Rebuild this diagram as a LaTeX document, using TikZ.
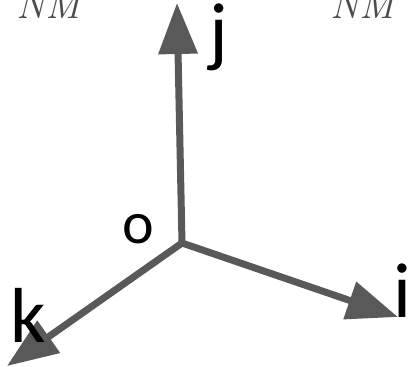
\documentclass[tikz,border=0pt]{standalone}
\usepackage{fontspec}
\newfontfamily\lblfont{Carlito}
\usetikzlibrary{arrows.meta}
\begin{document}
\begin{tikzpicture}[x=1pt,y=-1pt,
  axis/.style={draw=black!65, line width=7pt, -{Triangle[length=51pt,width=38pt]}},
  lbl/.style={inner sep=0pt, anchor=base west, font=\lblfont\fontsize{78}{90}\selectfont},
  nm/.style={inner sep=0pt, anchor=base west, text=black!70, font=\itshape\fontsize{40}{46}\selectfont}]
\useasboundingbox (0,0) rectangle (408,367);
\coordinate (O) at (182,243);
\coordinate (J) at (177,3);
\coordinate (I) at (398,317);
\coordinate (K) at (7,366);
\draw[axis] (O) -- (J);
\draw[axis] (O) -- (I);
\draw[axis] (O) -- (K);
\node[lbl] (jl) at (209,57) {j};
\node[lbl] (il) at (393,317) {i};
\node[lbl] (kl) at (10,342) {k};
\node[lbl, font=\lblfont\fontsize{60}{70}\selectfont] (ol) at (122,243) {o};
\node[nm] (nm1) at (16,18) {NM};
\node[nm] (nm2) at (330,18) {NM};
\end{tikzpicture}
\end{document}
